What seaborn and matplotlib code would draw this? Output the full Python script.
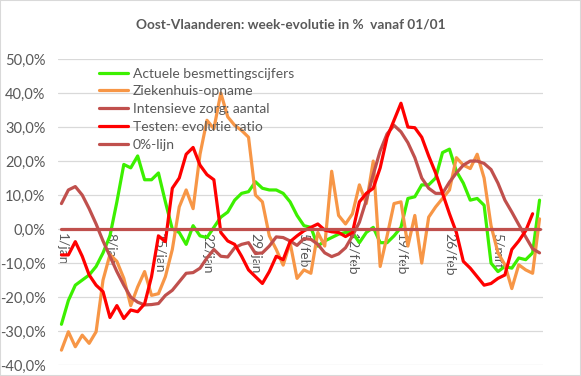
import pandas as pd
import matplotlib.pyplot as plt
import seaborn as sns
from matplotlib.ticker import FuncFormatter, MultipleLocator, FixedLocator
from matplotlib.patches import Rectangle

# dagelijkse waarden (week-evolutie in %), vanaf 1 januari
datums = pd.date_range("2021-01-01", periods=70)

besmettingen = [-28, -21, -16.5, -15, -13.5, -11, -7, -2, 8, 19,
                18, 21.5, 14.5, 14.5, 16.5, 8, 0, -1, -4.5, 1,
                -2, -2.5, 0.5, 3.5, 5, 8.5, 10.5, 11, 13.9, 12,
                11.5, 11.5, 10.5, 8, 4, 1, 0.5, -5, -3.5, -2.5,
                -1.5, -1, -1, -4, -1, 0.5, -4, -4, -2, 0.5,
                9, 9.5, 13, 13, 15, 22.5, 23.5, 17, 13.5, 8.5,
                9, 7, -10, -12.5, -11, -11.5, -8.5, -9, -7, 8.5]

ziekenhuis = [-35.6, -30.2, -34.6, -31.2, -33.6, -30.2, -15, -7.5, -9.5, -14.5,
              -22.5, -17, -12.5, -19.5, -19, -14, -6, 6.5, 11.5, 6,
              22, 32, 29.5, 40, 33, 30.5, 29, 27, 10, 8,
              -2, -6, -10.6, -4, -14.5, -12, -13, -1, -5, 17,
              4, 1.5, 4.5, 13, 7.5, 20, -11, -2, 7.5, 8,
              -5, 4, -10, 3.5, 6.5, 9, 11.5, 21, 18.8, 17.8,
              22, 15, 1, -7, -10.5, -17.5, -10.5, -12, -13, 3]

intensieve_zorg = [7.5, 11.5, 12.5, 10, 6, 1.5, -3.5, -8, -12.5, -16.5,
                   -20, -21.5, -22.3, -22.2, -21.9, -19.5, -18, -15.5, -13, -12.8,
                   -11.5, -8.5, -6, -8, -8.2, -5.5, -4.5, -4, -7.2, -7,
                   -5, -2.3, -2.5, -3.5, -4.8, -2.8, -3, -4.5, -7, -8.1,
                   -7.3, -5.5, -2, 2, 8.5, 16, 23, 28, 30.5, 28.6,
                   25.4, 21, 15, 12, 10.5, 10.5, 13.8, 16.5, 18.8, 20,
                   20, 19.3, 17.5, 13.5, 8.5, 5, 1.3, -2.3, -5.8, -7]

testen = [-7.6, -7.6, -3.7, -8, -13.5, -16.5, -18.4, -26, -22.5, -26.3,
          -23.8, -24.3, -22, -14, -2, -3.7, 12, 15, 22, 24,
          18.8, 16, 14.5, -1, -3.5, -4.5, -8, -12, -14, -16,
          -12.5, -8, -9, -3.7, -2, -0.5, 0.5, 1.5, -0.3, -0.8,
          -1, -2.2, -1, 8, 10.5, 12, 18, 27, 32, 37,
          30, 29.8, 27, 21.5, 16.5, 10.5, 4.5, -1, -9.5, -11.5,
          -14, -16.5, -16, -14.5, -13.5, -6, -3.5, -0.5, 4.5]

nul_lijn = [0.0] * 70

reeksen = ["Actuele besmettingscijfers", "Ziekenhuis-opname",
           "Intensieve zorg: aantal", "Testen: evolutie ratio", "0%-lijn"]
waarden = [besmettingen, ziekenhuis, intensieve_zorg, testen, nul_lijn]
kleuren = ["#3CF000", "#F79646", "#C0504D", "#FF0000", "#C0504D"]

maanden = {1: "jan", 2: "feb", 3: "mrt"}
tick_pos = list(range(0, 70, 7))
tick_labels = [f"{datums[i].day}/{maanden[datums[i].month]}" for i in tick_pos]

sns.set_style("white")
plt.rcParams['font.family'] = ['Lato', 'DejaVu Sans']
grijs = "#595959"

fig = plt.figure(figsize=(5.81, 3.76), dpi=100)
ax = fig.add_axes([0.0998, 0.029, 0.8348, 0.814])

for k, (naam, vals, kleur) in enumerate(zip(reeksen, waarden, kleuren)):
    sns.lineplot(x=list(range(len(vals))), y=vals, color=kleur, linewidth=2.3,
                 label=naam, ax=ax, zorder=3 + k)

ax.set_xlim(-0.5, 69.5)
ax.set_ylim(-40, 50)
ax.yaxis.set_major_locator(MultipleLocator(10))
ax.yaxis.set_major_formatter(FuncFormatter(lambda v, p: f"{v:.1f}%".replace(".", ",")))
ax.grid(axis="y", color="#D9D9D9", linewidth=0.9, zorder=0)
ax.set_axisbelow(True)

for s in ["top", "right", "left"]:
    ax.spines[s].set_visible(False)
ax.spines["bottom"].set_position(("data", 0))
ax.spines["bottom"].set_visible(False)

ax.set_xticks(tick_pos)
ax.set_xticklabels(tick_labels, rotation=-90, va="top", ha="center")
ax.xaxis.set_minor_locator(FixedLocator([p - 0.5 for p in tick_pos] + [69.5]))
ax.tick_params(axis="x", which="major", length=0, pad=3, labelsize=10, labelcolor=grijs)
ax.tick_params(axis="x", which="minor", length=4, color="#BFBFBF", direction="out")
ax.tick_params(axis="y", length=0, pad=9, labelsize=10.5, labelcolor=grijs)
ax.set_xlabel("")
ax.set_ylabel("")

handles, labels = ax.get_legend_handles_labels()
ax.legend(handles, labels, loc="upper left", bbox_to_anchor=(0.07, 0.995),
          frameon=False, fontsize=10, labelcolor=grijs, handlelength=2.1,
          handletextpad=0.35, labelspacing=0.42, borderpad=0)

fig.text(0.5, 0.936, "Oost-Vlaanderen: week-evolutie in %  vanaf 01/01",
         ha="center", va="center", fontsize=9.8, fontweight="bold", color=grijs)
fig.patches.append(Rectangle((0, 0), 1, 1, transform=fig.transFigure, fill=False,
                             edgecolor="#D9D9D9", linewidth=1.5))

fig.savefig("out.png", dpi=100)
